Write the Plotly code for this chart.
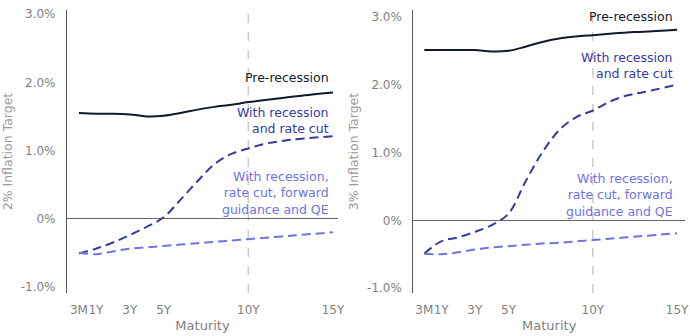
import plotly.graph_objects as go
from plotly.subplots import make_subplots

# maturity positions as drawn on the axis (3M sits at the origin)
maturity = [0, 1, 2, 3, 4, 5, 6, 7, 8, 9, 10, 11, 12, 13, 15]
tick_vals = [0, 1, 3, 5, 10, 15]
tick_text = ["3M", "1Y", "3Y", "5Y", "10Y", "15Y"]

# 2% inflation target panel
pre_2 = [1.55, 1.54, 1.54, 1.53, 1.50, 1.51, 1.55, 1.60, 1.64, 1.67, 1.71, 1.74, 1.77, 1.80, 1.85]
cut_2 = [-0.51, -0.44, -0.35, -0.24, -0.12, 0.02, 0.28, 0.55, 0.80, 0.95, 1.03, 1.10, 1.14, 1.17, 1.21]
qe_2 = [-0.50, -0.52, -0.48, -0.44, -0.42, -0.40, -0.38, -0.36, -0.34, -0.32, -0.30, -0.28, -0.26, -0.24, -0.20]

# 3% inflation target panel
pre_3 = [2.51, 2.51, 2.51, 2.51, 2.49, 2.50, 2.56, 2.63, 2.68, 2.71, 2.73, 2.75, 2.77, 2.78, 2.81]
cut_3 = [-0.49, -0.31, -0.25, -0.17, -0.07, 0.10, 0.57, 1.00, 1.33, 1.52, 1.62, 1.75, 1.84, 1.89, 2.00]
qe_3 = [-0.49, -0.50, -0.47, -0.43, -0.40, -0.38, -0.36, -0.34, -0.33, -0.31, -0.29, -0.27, -0.25, -0.23, -0.19]

y_tick_vals = [-1, 0, 1, 2, 3]
y_tick_text = ["-1.0%", "0%", "1.0%", "2.0%", "3.0%"]

C_PRE = "#111a2b"
C_CUT = "#353c9c"
C_QE = "#6e74e0"
FONT = "DejaVu Sans"
DASH = "9px,5px"

fig = make_subplots(rows=1, cols=2)

for col, (pre, cut, qe) in enumerate([(pre_2, cut_2, qe_2), (pre_3, cut_3, qe_3)], start=1):
    fig.add_trace(go.Scatter(x=maturity, y=pre, mode="lines", line=dict(color=C_PRE, width=2, shape="spline"),
                             showlegend=False), row=1, col=col)
    fig.add_trace(go.Scatter(x=maturity, y=cut, mode="lines",
                             line=dict(color=C_CUT, width=2, dash=DASH, shape="spline"),
                             showlegend=False), row=1, col=col)
    fig.add_trace(go.Scatter(x=maturity, y=qe, mode="lines",
                             line=dict(color=C_QE, width=2, dash=DASH, shape="spline"),
                             showlegend=False), row=1, col=col)

xa = dict(tickvals=tick_vals, ticktext=tick_text, showgrid=False, zeroline=False, showline=False,
          ticks="", tickangle=0, ticklabelstandoff=8,
          tickfont=dict(family=FONT, size=12, color="#7f7f7f"),
          title=dict(text="Maturity", font=dict(family=FONT, size=13, color="#7f7f7f"), standoff=4),
          automargin=False)
ya = dict(tickvals=y_tick_vals, ticktext=y_tick_text, showgrid=False, zeroline=True, zerolinecolor="#666666",
          zerolinewidth=1, showline=True, linecolor="#555555", linewidth=1, ticks="", ticklabelstandoff=8,
          tickfont=dict(family=FONT, size=12, color="#7f7f7f"), automargin=False)

fig.update_layout(
    width=690, height=336, margin=dict(l=0, r=0, t=0, b=0),
    plot_bgcolor="white", paper_bgcolor="white",
    xaxis=dict(xa, domain=[0.097, 0.490], range=[-0.71, 15.3]),
    xaxis2=dict(xa, domain=[0.599, 0.993], range=[-0.65, 15.48]),
    yaxis=dict(ya, domain=[0.128, 0.970], range=[-1.09, 3.06],
               title=dict(text="2% Inflation Target", font=dict(family=FONT, size=12.5, color="#999999"), standoff=5)),
    yaxis2=dict(ya, domain=[0.128, 0.970], range=[-1.07, 3.1],
                title=dict(text="3% Inflation Target", font=dict(family=FONT, size=12.5, color="#999999"), standoff=5)),
)

for xr, yr in [("x", "y"), ("x2", "y2")]:
    fig.add_shape(type="line", xref=xr, yref=yr + " domain", x0=10, x1=10, y0=0, y1=1,
                  line=dict(color="#cccccc", width=1.5, dash="dash"), layer="below")

ann = [
    ("x", "y", 2.07, "Pre-recession", C_PRE),
    ("x", "y", 1.44, "With recession<br>and rate cut", C_CUT),
    ("x", "y", 0.38, "With recession,<br>rate cut, forward<br>guidance and QE", C_QE),
    ("x2", "y2", 3.0, "Pre-recession", C_PRE),
    ("x2", "y2", 2.29, "With recession<br>and rate cut", C_CUT),
    ("x2", "y2", 0.38, "With recession,<br>rate cut, forward<br>guidance and QE", C_QE),
]
for xr, yr, yv, txt, c in ann:
    fig.add_annotation(xref=xr, yref=yr, x=14.9, y=yv, text=txt, showarrow=False, xanchor="right",
                       yanchor="middle", align="right", font=dict(family=FONT, size=12.5, color=c))

fig.write_html("out.html")
